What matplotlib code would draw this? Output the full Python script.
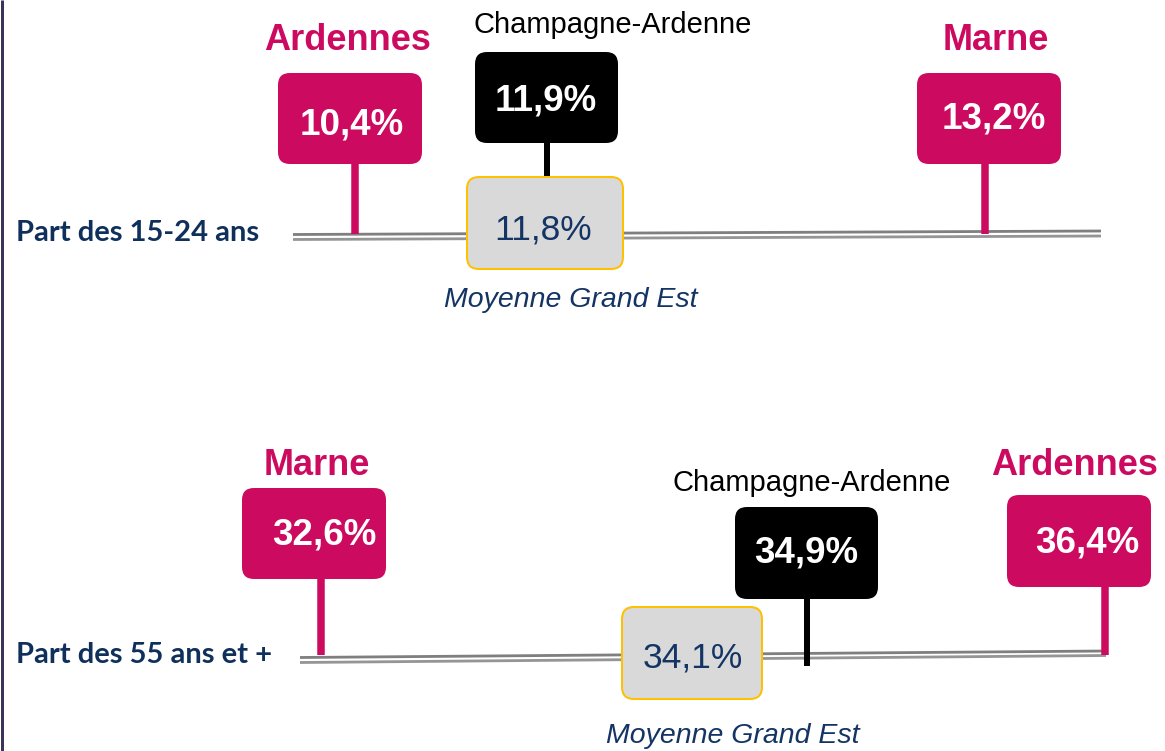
import numpy as np
import matplotlib
matplotlib.use("Agg")
import matplotlib.pyplot as plt
import matplotlib.transforms as mtransforms
from matplotlib.patches import FancyBboxPatch

# ---------------- data ----------------
indicators = ["Part des 15-24 ans", "Part des 55 ans et +"]
department_names = ["Ardennes", "Marne"]
ardennes_values = [10.4, 36.4]
marne_values = [13.2, 32.6]
region_label = "Champagne-Ardenne"
region_values = [11.9, 34.9]
average_label = "Moyenne Grand Est"
average_values = [11.8, 34.1]

# ---------------- styles ----------------
PINK = "#CC0A5F"
NAVY = "#143464"
LABEL_NAVY = "#10305C"
BLACK = "#000000"
BOX_GREY = "#D9D9D9"
GOLD = "#FFC000"
LINE_DARK = "#7F7F7F"
LINE_LIGHT = "#959595"
BORDER = "#3A3558"
ARIAL = "Liberation Sans"

W, H = 1165, 751
PT = 0.72  # points per pixel at 100 dpi

# ---------------- layout (pixels) ----------------
# pixel position of each row's (sorted) values along its axis: infographic, not to scale
row_axis_px = [[355, 545, 547, 985], [321, 692, 807, 1105]]
row_base_y = [235, 656]
row_label_pos = [(16, 241), (16, 663)]
row_lines = [
    [((293, 1101), (234.5, 231)), ((293, 1101), (239.5, 236))],
    [((300, 1106), (657.5, 651)), ((300, 1106), (662.5, 655.5))],
]
# box=(dx, dy, w, h) ; txt / title = (dx, dy baseline) ; stem=(dy_top, dy_bottom)
layout = [
    {
        "Ardennes": dict(box=(-77, -162, 144, 91), txt=(-3, -101), title=(-7, -185), stem=(-71, -1)),
        "Marne": dict(box=(-68, -162, 144, 91), txt=(9, -107), title=(11, -185), stem=(-71, -1)),
        "region": dict(box=(-72, -183, 143, 91), txt=(-1, -125), title=(66, -202), stem=(-92, -57)),
        "avg": dict(box=(-78, -58, 156, 92), txt=(-2, 5), title=(26, 72)),
    },
    {
        "Marne": dict(box=(-79, -168, 144, 91), txt=(3, -111), title=(-4, -181), stem=(-77, -1)),
        "Ardennes": dict(box=(-98, -161, 144, 92), txt=(-18, -104), title=(-30, -181), stem=(-69, -1)),
        "region": dict(box=(-72, -149, 143, 92), txt=(-1, -93), title=(5, -165), stem=(-57, 10)),
        "avg": dict(box=(-70, -49, 140, 92), txt=(1, 11), title=(41, 87)),
    },
]


def fmt(v):
    return f"{v:.1f}".replace(".", ",") + "%"


def make_scale(vals, px):
    vals = np.asarray(vals, float)
    px = np.asarray(px, float)
    sl = (px[1] - px[0]) / (vals[1] - vals[0])
    sr = (px[-1] - px[-2]) / (vals[-1] - vals[-2])
    V = np.concatenate([[vals[0] - 1e3], vals, [vals[-1] + 1e3]])
    P = np.concatenate([[px[0] - 1e3 * sl], px, [px[-1] + 1e3 * sr]])
    return (lambda x: np.interp(x, V, P)), (lambda p: np.interp(p, P, V))


fig = plt.figure(figsize=(W / 100, H / 100), dpi=100)
base = fig.add_axes([0, 0, 1, 1])
base.set_xlim(0, W)
base.set_ylim(H, 0)
base.axis("off")

# left border
base.plot([1.5, 1.5], [0, H], color=BORDER, lw=3 * PT, solid_capstyle="butt")


def local(ax, x, y):
    return (mtransforms.Affine2D().scale(0.01, -0.01) + fig.dpi_scale_trans
            + mtransforms.ScaledTranslation(x, y, ax.transData))


def draw_marker(ax, v, y0, lay, face, edge, txt_color, txt_weight, stem_color, stem_w,
                title, title_color, title_weight, title_size, z=3):
    if "stem" in lay:
        s0, s1 = lay["stem"]
        ax.vlines(v, y0 + s0, y0 + s1, colors=stem_color, lw=stem_w * PT, zorder=2)
    bx, by, bw, bh = lay["box"]
    patch = FancyBboxPatch((bx, by), bw, bh, boxstyle="round,pad=0,rounding_size=12",
                           facecolor=face, edgecolor=edge if edge else "none",
                           lw=2 * PT if edge else 0, transform=local(ax, v, y0), zorder=z)
    ax.add_patch(patch)
    tx, ty = lay["txt"]
    ax.annotate(fmt(v), xy=(v, y0), xytext=(tx, -ty), textcoords="offset pixels",
                ha="center", va="baseline", color=txt_color,
                fontsize=26.5 if txt_weight == "bold" else 25.5,
                fontweight=txt_weight, family=ARIAL, zorder=5)
    hx, hy = lay["title"]
    ax.annotate(title, xy=(v, y0), xytext=(hx, -hy), textcoords="offset pixels",
                ha="center", va="baseline", color=title_color, fontsize=title_size,
                fontweight=title_weight, family=ARIAL,
                fontstyle="italic" if title == average_label else "normal", zorder=5)


for r in range(len(indicators)):
    dept_vals = {"Ardennes": ardennes_values[r], "Marne": marne_values[r]}
    row_vals = sorted(list(dept_vals.values()) + [region_values[r], average_values[r]])
    fwd, inv = make_scale(row_vals, row_axis_px[r])
    ax = fig.add_axes([0, 0, 1, 1], label=f"row{r}")
    ax.set_xscale("function", functions=(fwd, inv))
    ax.set_xlim(inv(0.0), inv(float(W)))
    ax.set_ylim(H, 0)
    ax.axis("off")
    ax.patch.set_visible(False)

    y0 = row_base_y[r]
    # double line
    for (xs, ys), col in zip(row_lines[r], [LINE_DARK, LINE_LIGHT]):
        ax.plot([inv(xs[0]), inv(xs[1])], ys, color=col, lw=2.8 * PT, zorder=1,
                solid_capstyle="butt")
    # row label
    lx, ly = row_label_pos[r]
    base.text(lx, ly, indicators[r], ha="left", va="baseline", color=LABEL_NAVY,
              fontsize=21, fontweight="bold", family="Lato")

    for name in department_names:
        draw_marker(ax, dept_vals[name], y0, layout[r][name], PINK, None, "white", "bold",
                    PINK, 7.5, name, PINK, "bold", 26)
    draw_marker(ax, region_values[r], y0, layout[r]["region"], BLACK, None, "white", "bold",
                BLACK, 6, region_label, BLACK, "normal", 21)
    draw_marker(ax, average_values[r], y0, layout[r]["avg"], BOX_GREY, GOLD, NAVY, "normal",
                None, 0, average_label, NAVY, "normal", 20.5, z=3)

fig.savefig("out.png", dpi=100)
